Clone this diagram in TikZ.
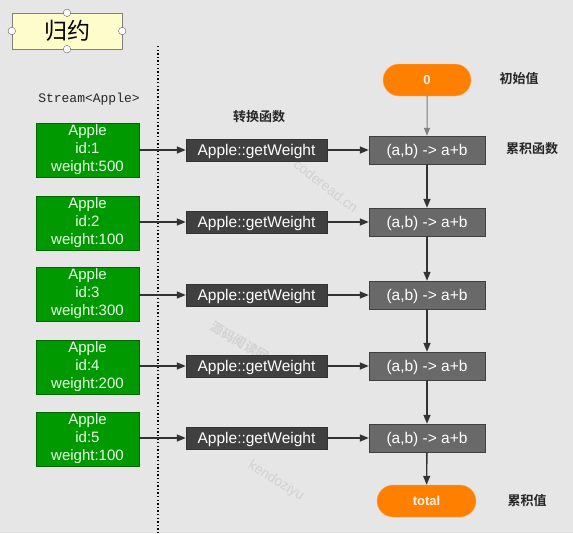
\documentclass[tikz,border=0pt]{standalone}
\usepackage{fontspec}
\setmainfont{Liberation Sans}
\newfontfamily\cjk{Noto Sans CJK SC}
\newfontfamily\cjkb{Noto Sans CJK SC Bold}
\newfontfamily\monof{Liberation Mono}
\usetikzlibrary{arrows.meta,shapes.misc}
\definecolor{bgc}{HTML}{E6E6E6}
\definecolor{applegreen}{HTML}{009900}
\definecolor{applegreenb}{HTML}{006600}
\definecolor{gwfill}{HTML}{404040}
\definecolor{redfill}{HTML}{696969}
\definecolor{orangec}{HTML}{FF8000}
\definecolor{arrowc}{HTML}{333333}
\definecolor{wmark}{HTML}{D2D2D2}
\tikzset{
  applebox/.style={draw=applegreenb, fill=applegreen, minimum width=103pt, minimum height=54pt,
    inner sep=0pt, text=green!8!white, align=center, font=\fontsize{15}{18}\selectfont},
  gwbox/.style={draw=black!80, fill=gwfill, minimum width=141pt, minimum height=22pt,
    inner sep=0pt, text=white, font=\fontsize{15.5}{17}\selectfont, text height=11.5pt, text depth=0.5pt},
  redbox/.style={draw=black!75, fill=redfill, minimum width=116pt, minimum height=28pt,
    inner sep=0pt, text=white, font=\fontsize{15.5}{17}\selectfont, text height=11.5pt, text depth=0.5pt},
  pill/.style={rounded rectangle, fill=orangec, draw=orange!60!white, minimum height=32pt,
    inner sep=0pt, text=white!90!orange, font=\bfseries\fontsize{13}{15}\selectfont},
  lbl/.style={font=\cjkb\fontsize{13}{15}\selectfont, text=black!85},
  arr/.style={draw=arrowc, line width=1.4pt, -{Triangle[length=9pt,width=7pt]}},
  wm/.style={text=wmark, font=\fontsize{14}{16}\selectfont},
  handle/.style={circle, draw=black!60, fill=white, minimum size=7.5pt, inner sep=0pt}
}
\begin{document}
\begin{tikzpicture}[x=1pt,y=-1pt]
\fill[bgc] (0,0) rectangle (573,533);
\useasboundingbox (0,0) rectangle (573,533);

% title
\node[draw=black!50, fill=yellow!20, minimum width=110pt, minimum height=36pt, inner sep=0pt,
  font=\cjk\fontsize{23}{25}\selectfont] (title) at (67,31) {归约};
\node[handle] (h1) at (title.west) {};
\node[handle] (h2) at (title.east) {};
\node[handle] (h3) at (title.north) {};
\node[handle] (h4) at (title.south) {};

% dotted separator
\coordinate (d1) at (158,46);
\coordinate (d2) at (158,533);
\draw[black, line width=1.4pt, dash pattern=on 1.4pt off 2.2pt] (d1) -- (d2);

% watermarks
\node[wm, rotate=-38] (w1) at (326,186) {coderead.cn};
\node[wm, rotate=-30, font=\cjkb\fontsize{13}{15}\selectfont] (w2) at (240,342) {源码阅读网};
\node[wm, rotate=-32] (w3) at (276,481) {kendoziyu};

% labels
\node[font=\monof\fontsize{13}{15}\selectfont, text=black!85] (stream) at (89,99) {Stream<Apple>};
\node[lbl] (l1) at (259,117) {转换函数};
\node[lbl] (l2) at (519,79) {初始值};
\node[lbl] (l3) at (532,149) {累积函数};
\node[lbl] (l4) at (527,501) {累积值};

% apple boxes
\node[applebox] (a1) at (87.5,150) {Apple\\id:1\\weight:500};
\node[applebox] (a2) at (87.5,223) {Apple\\id:2\\weight:100};
\node[applebox] (a3) at (87.5,294) {Apple\\id:3\\weight:300};
\node[applebox] (a4) at (87.5,367) {Apple\\id:4\\weight:200};
\node[applebox] (a5) at (87.5,439) {Apple\\id:5\\weight:100};

% getWeight boxes
\node[gwbox] (g1) at (256.5,150) {Apple::getWeight};
\node[gwbox] (g2) at (256.5,222) {Apple::getWeight};
\node[gwbox] (g3) at (256.5,295) {Apple::getWeight};
\node[gwbox] (g4) at (256.5,366) {Apple::getWeight};
\node[gwbox] (g5) at (256.5,438) {Apple::getWeight};

% reduce boxes
\node[redbox] (r1) at (427,150) {(a,b) -> a+b};
\node[redbox] (r2) at (427,222) {(a,b) -> a+b};
\node[redbox] (r3) at (427,295) {(a,b) -> a+b};
\node[redbox] (r4) at (427,366) {(a,b) -> a+b};
\node[redbox] (r5) at (427,438) {(a,b) -> a+b};

% pills
\node[pill, minimum width=88pt] (init) at (427,80) {0};
\node[pill, minimum width=99pt] (total) at (426.5,501) {total};

% arrows apple -> getWeight -> reduce
\foreach \i in {1,...,5} {
  \draw[arr] (a\i.east |- g\i.west) -- (g\i.west);
  \draw[arr] (g\i.east) -- (r\i.west);
}
% vertical chain
\draw[draw=black!50, line width=1pt, -{Triangle[length=8pt,width=6pt]}, fill=black!50] (init) -- (r1);
\draw[arr] (r1) -- (r2);
\draw[arr] (r2) -- (r3);
\draw[arr] (r3) -- (r4);
\draw[arr] (r4) -- (r5);
\draw[arr] (r5) -- (total);
\end{tikzpicture}
\end{document}
